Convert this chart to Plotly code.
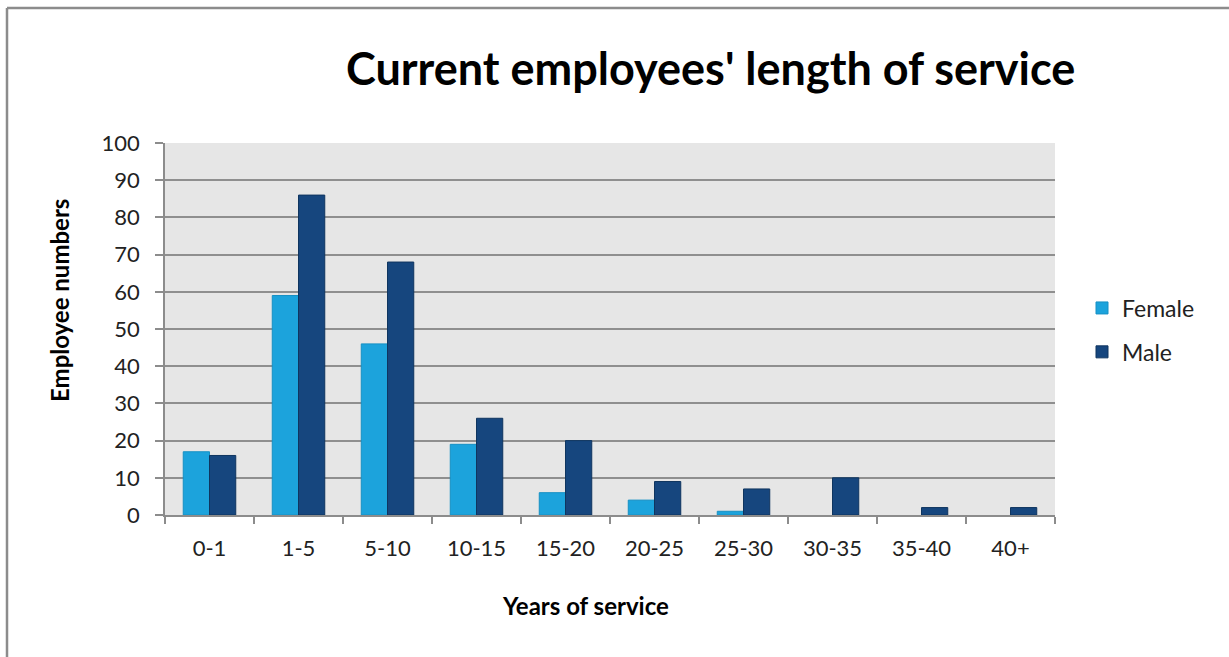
import plotly.graph_objects as go

categories = ["0-1", "1-5", "5-10", "10-15", "15-20", "20-25", "25-30", "30-35", "35-40", "40+"]
female = [17, 59, 46, 19, 6, 4, 1, 0, 0, 0]
male = [16, 86, 68, 26, 20, 9, 7, 10, 2, 2]

W, H = 1229, 657
L, R, T, B = 165, 174, 143, 142
pw, ph = W - L - R, H - T - B

def px(x):  # screen x -> paper
    return (x - L) / pw

def py(y):  # screen y -> paper
    return (H - B - y) / ph

fig = go.Figure()
fig.add_trace(go.Bar(name="Female", x=categories, y=female, legendgroup="f",
                     marker=dict(color="#1ca3dc",
                                 line=dict(color="#1790c4", width=[1 if v > 0 else 0 for v in female]))))
fig.add_trace(go.Bar(name="Male", x=categories, y=male, legendgroup="m",
                     marker=dict(color="#16467e",
                                 line=dict(color="#0f355f", width=[1 if v > 0 else 0 for v in male]))))

font_family = "Lato, 'Open Sans', sans-serif"
fig.update_layout(
    width=W, height=H,
    margin=dict(l=L, r=R, t=T, b=B, pad=0),
    paper_bgcolor="white",
    plot_bgcolor="#e6e6e6",
    barmode="group",
    bargap=0.41,
    bargroupgap=0,
    font=dict(family=font_family, size=22, color="#222"),
    showlegend=True,
    legend=dict(x=px(1082), y=py(330), xanchor="left", yanchor="middle",
                font=dict(size=23, color="#222"), tracegroupgap=11,
                bgcolor="rgba(0,0,0,0)", itemwidth=30),
)
fig.update_xaxes(
    type="category", showgrid=False, showline=True, linecolor="#8c8c8c", linewidth=1.5,
    ticks="outside", tickson="boundaries", ticklen=7, tickcolor="#8c8c8c", tickwidth=1.5,
    ticklabelstandoff=13, tickfont=dict(size=22, color="#222"),
)
fig.update_yaxes(
    range=[0, 100], dtick=10, showgrid=True, gridcolor="#8f8f8f", gridwidth=1.5,
    showline=True, linecolor="#8c8c8c", linewidth=1.5,
    ticks="outside", ticklen=8, tickcolor="#8c8c8c", tickwidth=1.5,
    ticklabelstandoff=11, tickfont=dict(size=22, color="#222"), zeroline=False,
)

fig.add_annotation(text="<b>Current employees' length of service</b>", xref="paper", yref="paper",
                   x=px(710), y=py(68), xanchor="center", yanchor="middle", showarrow=False,
                   font=dict(size=45, color="black", family=font_family))
fig.add_annotation(text="<b>Employee numbers</b>", xref="paper", yref="paper",
                   x=px(59), y=py(301), xanchor="center", yanchor="middle", showarrow=False,
                   textangle=-90, font=dict(size=24, color="black"))
fig.add_annotation(text="<b>Years of service</b>", xref="paper", yref="paper",
                   x=px(585), y=py(605), xanchor="center", yanchor="middle", showarrow=False,
                   font=dict(size=24, color="black"))

# chart frame (left and top edges visible)
fig.add_shape(type="line", xref="paper", yref="paper", x0=px(7), x1=px(7), y0=py(657), y1=py(8),
              line=dict(color="#8c8c8c", width=2.5))
fig.add_shape(type="line", xref="paper", yref="paper", x0=px(7), x1=px(1229), y0=py(8), y1=py(8),
              line=dict(color="#8c8c8c", width=2.5))

fig.write_html("out.html", config={"displayModeBar": False},
               post_script="document.body.style.margin='0';document.body.style.overflow='hidden';")
